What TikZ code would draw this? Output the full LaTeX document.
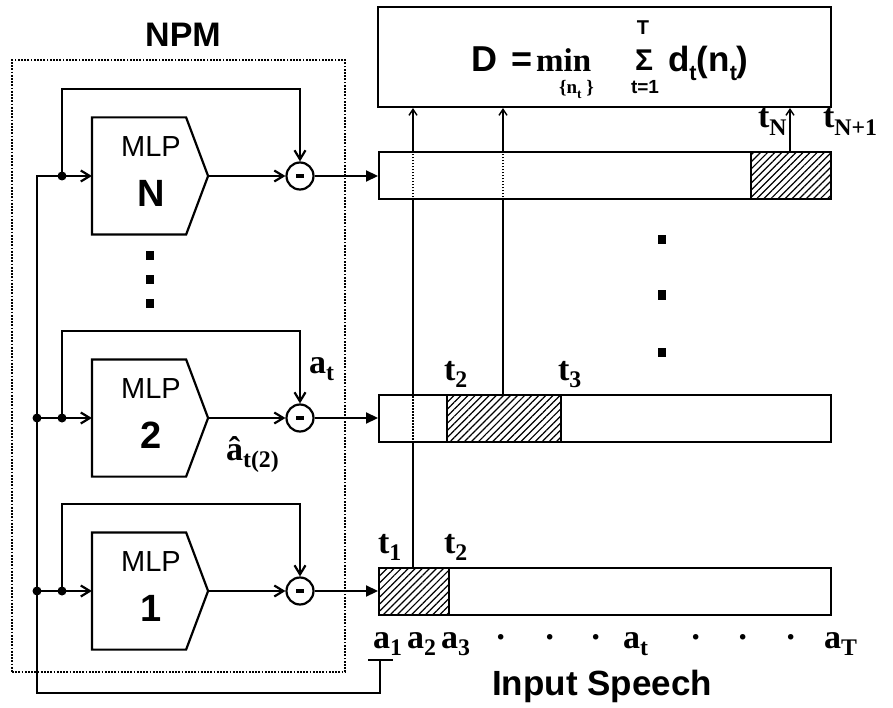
\documentclass[tikz,border=0pt]{standalone}
\usepackage{fontspec}
\setmainfont{Liberation Sans}
\newfontfamily\tms{Liberation Serif}
\usetikzlibrary{arrows.meta,calc,patterns.meta}
\newcommand\fs[1]{\fontsize{#1}{#1}\selectfont}
\newcommand\lo[1]{\raisebox{-0.5ex}{\scalebox{0.7}{#1}}}
\newcommand\lf[1]{\raisebox{-0.45ex}{\scalebox{0.62}{#1}}}

\begin{document}
\begin{tikzpicture}[x=1pt,y=-1pt,line width=2.2pt]
\tikzstyle{mlp}=[minimum width=114pt,minimum height=115pt,inner sep=0pt]
\tikzstyle{bar}=[draw,line width=2pt,fill=white,minimum width=452pt,minimum height=47pt,inner sep=0pt]
\tikzstyle{hatch}=[draw,line width=2pt,pattern={Lines[angle=45,distance=5pt,line width=1.2pt]},minimum height=47pt,inner sep=0pt]
\tikzstyle{sub}=[circle,draw,minimum size=27pt,inner sep=0pt]
\tikzstyle{tl}=[font=\tms\bfseries\fs{34},anchor=base west,inner sep=0pt]
\tikzstyle{fm}=[font=\bfseries\fs{36},anchor=base west,inner sep=0pt]
\tikzstyle{vl}=[line width=1.4pt]
\tikzstyle{vd}=[line width=1.4pt,dash pattern=on 1.5pt off 1.5pt]
\tikzstyle{tobarb}=[-{Straight Barb[length=9pt,width=11pt]}]
\tikzstyle{totri}=[-{Triangle[length=12pt,width=11pt]}]
\tikzstyle{tosmall}=[-{Straight Barb[length=6pt,width=8pt]}]
\useasboundingbox (0,0) rectangle (893,708);
\node[draw,line width=2pt,dash pattern=on 1.8pt off 1.4pt,minimum width=333pt,minimum height=612pt,inner sep=0pt] (npm) at (178.5,366) {};
\node[font=\bfseries\fs{34}] (npmt) at (183,35) {NPM};
\node[draw,minimum width=453pt,minimum height=100pt,inner sep=0pt] (D) at (604.5,57) {};
\foreach \k/\y in {N/176,2/418,1/591} \node[bar] (bar\k) at (605,\y) {};
\node[hatch,minimum width=80pt] (hN) at (791,176) {};
\node[hatch,minimum width=114pt] (h2) at (504,418) {};
\node[hatch,minimum width=70pt] (h1) at (414,591) {};
\foreach \k/\y/\n in {N/176/N,2/418/2,1/591/1} {
 \node[mlp] (m\k) at (150,\y) {};
 \draw (m\k.north west) -- ($(m\k.north east)+(-22,0)$) -- (m\k.east) -- ($(m\k.south east)+(-22,0)$) -- (m\k.south west) -- cycle;
 \node[font=\fs{29}] (l\k) at (151,\y-29) {MLP};
 \node[font=\bfseries\fs{38}] (n\k) at (151,\y+17) {\n};
 \node[sub] (s\k) at (300,\y) {\rule{8pt}{4pt}};
 \coordinate (j\k) at (62,\y);
 \fill (j\k) circle (4.5pt);
 \draw[tobarb] (j\k) -- (m\k.west);
 \draw[tobarb] (m\k.east) -- (s\k.west);
 \draw[tobarb] (j\k) -- ($(j\k)+(0,-87)$) -| (s\k.north);
 \draw[totri] (s\k.east) -- (bar\k.west);
}
\coordinate (ul) at (380,660);
\coordinate (lc) at (37,693);
\draw ($(ul)+(-12,0)$) -- ($(ul)+(13,0)$);
\draw (ul) |- (lc) |- (jN);
\foreach \k in {2,1} { \fill (lc |- j\k) circle (4.5pt); \draw (lc |- j\k) -- (j\k); }
\coordinate (va) at (413,0);
\coordinate (vb) at (503,0);
\coordinate (vc) at (790,0);
\draw[vl] (va |- bar1.north) -- (va |- bar2.south) (va |- bar2.north) -- (va |- barN.south);
\draw[vl,tosmall] (va |- barN.north) -- (va |- D.south);
\draw[vd] (va |- bar2.south) -- (va |- bar2.north) (va |- barN.south) -- (va |- barN.north);
\draw[vl] (vb |- bar2.north) -- (vb |- barN.south);
\draw[vl,tosmall] (vb |- barN.north) -- (vb |- D.south);
\draw[vd] (vb |- barN.south) -- (vb |- barN.north);
\draw[vl,tosmall] (vc |- barN.north) -- (vc |- D.south);
\foreach \x/\y in {146/256,146/280,146/303,658/240,658/295,658/352} \fill (\x,\y-4.5) rectangle +(8,9);
\node[fm] (fD) at (470,72) {D};
\node[fm] (feq) at (510,72) {=};
\node[fm,font=\tms\bfseries\fs{33}] (fmin) at (535,72) {min};
\node[fm,font=\tms\bfseries\fs{19}] (fset) at (558,94) {\{n\lo{t} \}};
\node[fm,font=\bfseries\fs{30},anchor=base] (fsum) at (644,71) {Σ};
\node[fm,font=\bfseries\fs{20},anchor=base] (fT) at (643,35) {T};
\node[fm,font=\bfseries\fs{19},anchor=base] (flow) at (645,94) {t=1};
\node[fm,font=\bfseries\fs{35}] (fd) at (667,72) {d\lf{t}(n\lf{t})};
\node[tl] (tN) at (757,128) {t\lo{N}};
\node[tl] (tN1) at (822,128) {t\lo{N+1}};
\node[tl] (t2) at (443,380) {t\lo{2}};
\node[tl] (t3) at (557,380) {t\lo{3}};
\node[tl] (t1) at (377,553) {t\lo{1}};
\node[tl] (t2b) at (443,553) {t\lo{2}};
\node[tl] (at) at (308,373) {a\lo{t}};
\node[tl] (ah) at (225,460) {â\lo{t(2)}};
\foreach \x/\s [count=\i] in {372/a\lo{1},406/a\lo{2},440/a\lo{3},494/·,543/·,589/·,622/a\lo{t},689/·,736/·,784/·,823/a\lo{T}} \node[tl] (sp\i) at (\x,648) {\s};
\node[font=\bfseries\fs{35}] (isp) at (602,686) {Input Speech};
\end{tikzpicture}
\end{document}
